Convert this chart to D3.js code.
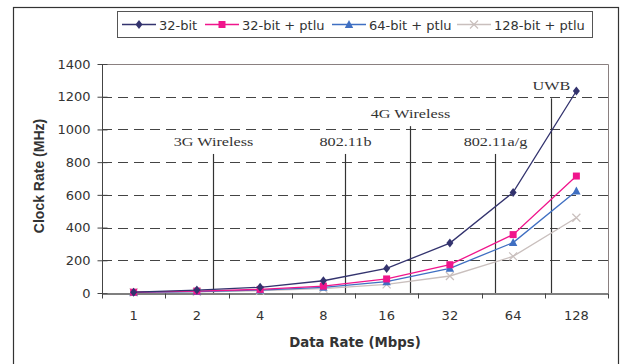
<!DOCTYPE html>
<html>
<head>
<meta charset="utf-8">
<script src="https://cdn.jsdelivr.net/npm/d3@7"></script>
<style>
  body { margin: 0; background: #fff; }
  svg { display: block; }
</style>
</head>
<body>
<script>
// data
let categories = ["1", "2", "4", "8", "16", "32", "64", "128"];
let s32 = [5, 18, 35, 75, 150, 305, 615, 1235];
let s32ptlu = [5, 12, 22, 42, 86, 173, 357, 715];
let s64ptlu = [4, 9, 18, 35, 69, 151, 308, 623];
let s128ptlu = [4, 7, 14, 27, 53, 104, 224, 460];
let seriesNames = ["32-bit", "32-bit + ptlu", "64-bit + ptlu", "128-bit + ptlu"];
let yTicks = [0, 200, 400, 600, 800, 1000, 1200, 1400];
// annotation lines: position in category units, top value
let annLabels = ["3G Wireless", "802.11b", "4G Wireless", "802.11a/g", "UWB"];
let annPos = [1.75, 3.84, 4.87, 6.21, 7.10];
let annTop = [850, 850, 1020, 850, 1190];

let width = 622, height = 364;
let margin = { top: 64, right: 14, bottom: 71, left: 102 };
let w = width - margin.left - margin.right;
let h = height - margin.top - margin.bottom;

let colors = ["#33336e", "#f0158c", "#3f6fc2", "#c9bfbd"];
let sans = "DejaVu Sans, Verdana, sans-serif";

// marker paths (diamond, square, triangle, x)
let markers = [
    "M0,-4.5L3.5,0L0,4.5L-3.5,0Z",
    "M-3.5,-3.5H3.5V3.5H-3.5Z",
    "M0,-4.5L4.2,3.5H-4.2Z",
    "M-4,-4L4,4M-4,4L4,-4"
];

let svg = d3.select("body").append("svg")
    .attr("width", width)
    .attr("height", height);

// outer frame
svg.append("rect")
    .attr("x", 13.5).attr("y", 7.5)
    .attr("width", 605).attr("height", 370)
    .attr("fill", "none").attr("stroke", "#333").attr("stroke-width", 1.2);

let g = svg.append("g")
    .attr("transform", "translate(" + margin.left + "," + margin.top + ")");

let x = d3.scaleBand().domain(categories).range([0, w]);
let xPos = d3.scaleLinear().domain([0, categories.length]).range([0, w]);
let y = d3.scaleLinear().domain([0, 1400]).range([h, 0]);

// dashed grid
g.selectAll(".grid")
    .data(yTicks.filter(d => d > 0 && d < 1400))
    .enter().append("line")
    .attr("x1", 0).attr("x2", w)
    .attr("y1", d => Math.round(y(d)) + 0.5).attr("y2", d => Math.round(y(d)) + 0.5)
    .attr("stroke", "#444").attr("stroke-dasharray", "10,6");

// plot border top/right
g.append("path")
    .attr("d", "M0," + (Math.round(y(1400)) + 0.5) + "H" + (w + 0.5) + "V" + h)
    .attr("fill", "none").attr("stroke", "#8a8080");

// y axis
let yAxis = g.append("g")
    .attr("transform", "translate(0.5,0)")
    .call(d3.axisLeft(y).tickValues(yTicks).tickFormat(d3.format("d")).tickSize(5).tickPadding(7));
yAxis.selectAll(".tick line").attr("x2", -5).attr("x1", 5);
yAxis.select(".domain").attr("d", "M0," + y(1400) + "V" + h);
yAxis.selectAll("path, line").attr("stroke", "#444");
yAxis.selectAll("text")
    .attr("font-family", sans)
    .attr("font-size", 13).attr("fill", "#333");

// x axis
let xAxis = g.append("g")
    .attr("transform", "translate(0," + (h + 0.5) + ")")
    .call(d3.axisBottom(x).tickSize(0).tickPadding(17));
xAxis.select(".domain").attr("stroke", "#555").attr("stroke-width", 1.5);
xAxis.selectAll("text")
    .attr("font-family", sans)
    .attr("font-size", 13).attr("fill", "#333");
xAxis.selectAll(".bnd")
    .data(d3.range(categories.length + 1))
    .enter().append("line")
    .attr("x1", d => Math.round(xPos(d)) + 0.5).attr("x2", d => Math.round(xPos(d)) + 0.5)
    .attr("y1", 0).attr("y2", 5)
    .attr("stroke", "#444");

// annotation lines
annLabels.forEach((lab, i) => {
    let ax = Math.round(xPos(annPos[i])) + 0.5;
    g.append("line")
        .attr("x1", ax).attr("x2", ax)
        .attr("y1", y(annTop[i])).attr("y2", h)
        .attr("stroke", "#333").attr("stroke-width", 1.2);
    g.append("text")
        .attr("transform", "translate(" + ax + "," + (y(annTop[i]) - 8) + ") scale(1.2,1)")
        .attr("text-anchor", "middle")
        .attr("font-family", "Liberation Serif, Times New Roman, serif")
        .attr("font-size", 13.5).attr("fill", "#333")
        .text(lab);
});

// series
let allSeries = [s32, s32ptlu, s64ptlu, s128ptlu];
let cx = (d, i) => x(categories[i]) + x.bandwidth() / 2;
let line = d3.line()
    .x(cx)
    .y(d => y(d));

[3, 2, 1, 0].forEach(k => {
    let vals = allSeries[k];
    g.append("path")
        .datum(vals)
        .attr("d", line)
        .attr("fill", "none")
        .attr("stroke", colors[k]).attr("stroke-width", 1.3);
    g.selectAll(".m" + k)
        .data(vals)
        .enter().append("path")
        .attr("transform", (d, i) => "translate(" + cx(d, i) + "," + y(d) + ")")
        .attr("d", markers[k])
        .attr("fill", k === 3 ? "none" : colors[k])
        .attr("stroke", k === 3 ? colors[k] : "none")
        .attr("stroke-width", 1.2);
});

// axis titles
svg.append("text")
    .attr("transform", "translate(44,176) rotate(-90)")
    .attr("text-anchor", "middle")
    .attr("font-family", "Liberation Sans, Arial, sans-serif")
    .attr("font-size", 14).attr("font-weight", "bold").attr("fill", "#333")
    .text("Clock Rate (MHz)");

svg.append("text")
    .attr("x", 355).attr("y", 347)
    .attr("text-anchor", "middle")
    .attr("font-family", sans)
    .attr("font-size", 13.3).attr("font-weight", "bold").attr("fill", "#333")
    .text("Data Rate (Mbps)");

// legend
let legend = svg.append("g");
legend.append("rect")
    .attr("x", 117.5).attr("y", 11.5)
    .attr("width", 475).attr("height", 26)
    .attr("fill", "#fff").attr("stroke", "#555").attr("stroke-width", 1);
let lx = [122, 205, 332, 457];
seriesNames.forEach((name, k) => {
    let sx = lx[k];
    legend.append("line")
        .attr("x1", sx).attr("x2", sx + 34)
        .attr("y1", 24.5).attr("y2", 24.5)
        .attr("stroke", colors[k]).attr("stroke-width", 1.3);
    legend.append("path")
        .attr("transform", "translate(" + (sx + 17) + ",24.5)")
        .attr("d", markers[k])
        .attr("fill", k === 3 ? "none" : colors[k])
        .attr("stroke", k === 3 ? colors[k] : "none")
        .attr("stroke-width", 1.2);
    legend.append("text")
        .attr("x", sx + 37).attr("y", 29.5)
        .attr("font-family", sans)
        .attr("font-size", 13).attr("fill", "#333")
        .text(name);
});
</script>
</body>
</html>
